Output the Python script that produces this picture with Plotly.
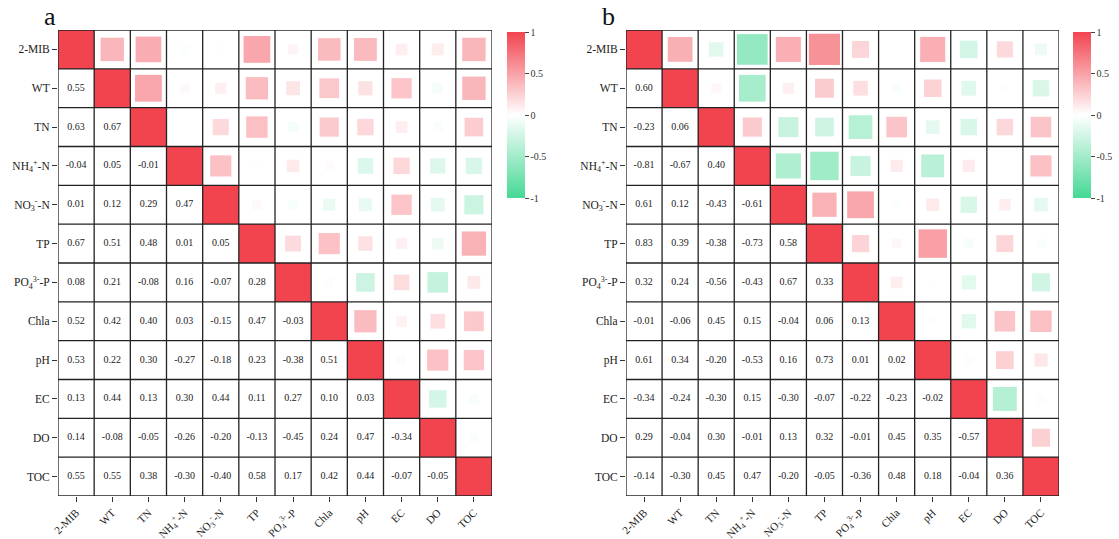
import numpy as np
import plotly.graph_objects as go

labels = ["2-MIB", "WT", "TN", "NH<sub>4</sub><sup>+</sup>-N", "NO<sub>3</sub><sup>-</sup>-N", "TP",
          "PO<sub>4</sub><sup>3-</sup>-P", "Chla", "pH", "EC", "DO", "TOC"]

# lower triangles (row i, columns 0..i-1)
a_lower = [
    [0.55],
    [0.63, 0.67],
    [-0.04, 0.05, -0.01],
    [0.01, 0.12, 0.29, 0.47],
    [0.67, 0.51, 0.48, 0.01, 0.05],
    [0.08, 0.21, -0.08, 0.16, -0.07, 0.28],
    [0.52, 0.42, 0.40, 0.03, -0.15, 0.47, -0.03],
    [0.53, 0.22, 0.30, -0.27, -0.18, 0.23, -0.38, 0.51],
    [0.13, 0.44, 0.13, 0.30, 0.44, 0.11, 0.27, 0.10, 0.03],
    [0.14, -0.08, -0.05, -0.26, -0.20, -0.13, -0.45, 0.24, 0.47, -0.34],
    [0.55, 0.55, 0.38, -0.30, -0.40, 0.58, 0.17, 0.42, 0.44, -0.07, -0.05],
]
b_lower = [
    [0.60],
    [-0.23, 0.06],
    [-0.81, -0.67, 0.40],
    [0.61, 0.12, -0.43, -0.61],
    [0.83, 0.39, -0.38, -0.73, 0.58],
    [0.32, 0.24, -0.56, -0.43, 0.67, 0.33],
    [-0.01, -0.06, 0.45, 0.15, -0.04, 0.06, 0.13],
    [0.61, 0.34, -0.20, -0.53, 0.16, 0.73, 0.01, 0.02],
    [-0.34, -0.24, -0.30, 0.15, -0.30, -0.07, -0.22, -0.23, -0.02],
    [0.29, -0.04, 0.30, -0.01, 0.13, 0.32, -0.01, 0.45, 0.35, -0.57],
    [-0.14, -0.30, 0.45, 0.47, -0.20, -0.05, -0.36, 0.48, 0.18, -0.04, 0.36],
]

FONT = "Liberation Serif"
cscale = [[0, "#45D894"], [0.5, "#FFFFFF"], [1, "#F2444F"]]
n = len(labels)


def full(lower):
    M = np.eye(n)
    for i, row in enumerate(lower, start=1):
        for j, v in enumerate(row):
            M[i, j] = v
            M[j, i] = v
    return M


fig = go.Figure()
panels = [(a_lower, "x", "y", "coloraxis"), (b_lower, "x2", "y2", "coloraxis2")]
for lower, xa, ya, ca in panels:
    M = full(lower)
    diag = np.full((n, n), np.nan)
    for i in range(n):
        diag[i, i] = M[i, i]
    fig.add_trace(go.Heatmap(z=diag, x=list(range(n)), y=list(range(n)), coloraxis=ca,
                             xaxis=xa, yaxis=ya, hoverinfo="skip", xgap=0, ygap=0))
    ux, uy, uv = [], [], []
    lx, ly, lt = [], [], []
    for i in range(n):
        for j in range(n):
            if j > i:
                ux.append(j); uy.append(i); uv.append(M[i, j])
            elif j < i:
                lx.append(j); ly.append(i); lt.append(f"{M[i, j]:.2f}")
    uv = np.array(uv)
    fig.add_trace(go.Scatter(x=ux, y=uy, mode="markers", xaxis=xa, yaxis=ya,
                             marker=dict(symbol="square", size=8 + 28 * np.abs(uv), color=uv,
                                         coloraxis=ca, line=dict(width=0)),
                             hoverinfo="skip", showlegend=False))
    fig.add_trace(go.Scatter(x=lx, y=ly, mode="text", text=lt, xaxis=xa, yaxis=ya,
                             textfont=dict(family=FONT, size=10, color="#222"),
                             hoverinfo="skip", showlegend=False))
    # cell borders
    for k in range(n + 1):
        p = k - 0.5
        fig.add_shape(type="line", xref=xa, yref=ya, x0=p, x1=p, y0=-0.5, y1=n - 0.5,
                      line=dict(color="#222", width=1.3), layer="above")
        fig.add_shape(type="line", xref=xa, yref=ya, y0=p, y1=p, x0=-0.5, x1=n - 0.5,
                      line=dict(color="#222", width=1.3), layer="above")

W, H = 1119, 539
ydom = [1 - 496 / H, 1 - 30 / H]
axcommon = dict(tickmode="array", tickvals=list(range(n)), ticktext=labels, showgrid=False,
                zeroline=False, ticks="outside", ticklen=5, tickcolor="#333", automargin=False,
                tickfont=dict(family=FONT, size=11.5, color="#222"), range=[-0.5, n - 0.5])
xfont = dict(family=FONT, size=11, color="#222")
fig.update_layout(
    width=W, height=H, margin=dict(l=0, r=0, t=0, b=0, autoexpand=False),
    paper_bgcolor="white", plot_bgcolor="white", showlegend=False,
    xaxis=dict(domain=[58 / W, 492 / W], anchor="y", tickangle=-45, **{**axcommon, "tickfont": xfont}),
    yaxis=dict(domain=ydom, anchor="x", **{**axcommon, "range": [n - 0.5, -0.5]}),
    xaxis2=dict(domain=[626 / W, 1059 / W], anchor="y2", tickangle=-45, **{**axcommon, "tickfont": xfont}),
    yaxis2=dict(domain=ydom, anchor="x2", **{**axcommon, "range": [n - 0.5, -0.5]}),
)
cb = dict(thickness=18, len=166 / H, lenmode="fraction", yanchor="top", y=1 - 32 / H,
          xanchor="left", xpad=0, ypad=0, outlinewidth=0, ticks="outside", ticklen=4,
          tickcolor="#444", tickvals=[-1, -0.5, 0, 0.5, 1], ticktext=["-1", "-0.5", "0", "0.5", "1"],
          tickfont=dict(family=FONT, size=10, color="#333"))
fig.update_layout(
    coloraxis=dict(colorscale=cscale, cmin=-1, cmax=1, colorbar=dict(x=507 / W, **cb)),
    coloraxis2=dict(colorscale=cscale, cmin=-1, cmax=1, colorbar=dict(x=1073 / W, **cb)),
)
fig.add_annotation(text="a", x=42 / W, y=1 - 17 / H, xref="paper", yref="paper", showarrow=False,
                   font=dict(family=FONT, size=26, color="#111"), xanchor="left", yanchor="middle")
fig.add_annotation(text="b", x=600 / W, y=1 - 17 / H, xref="paper", yref="paper", showarrow=False,
                   font=dict(family=FONT, size=26, color="#111"), xanchor="left", yanchor="middle")
fig.write_html("out.html")
